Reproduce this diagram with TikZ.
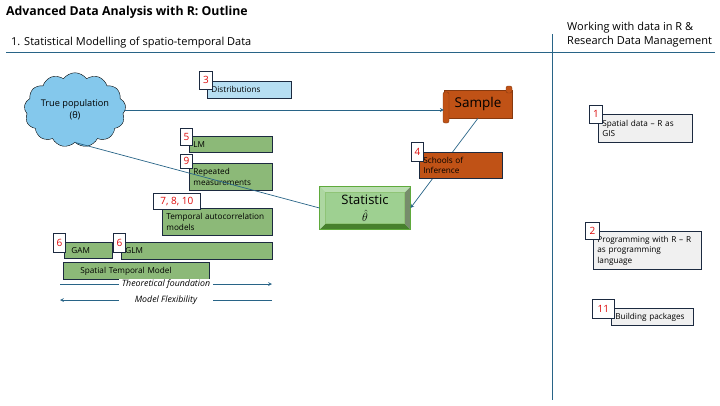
\documentclass[tikz,border=0pt]{standalone}
\usepackage{fontspec}
\setmainfont{Open Sans}
\usepackage{xcolor}
\usepackage{tikz}
\usetikzlibrary{shapes.symbols}
\usetikzlibrary{calc}
\definecolor{rulecol}{RGB}{40,100,135}
\definecolor{navy}{RGB}{28,42,64}
\definecolor{numred}{RGB}{220,10,10}
\definecolor{modelgreen}{RGB}{140,185,120}
\definecolor{distblue}{RGB}{182,222,242}
\definecolor{rust}{RGB}{192,82,22}
\definecolor{skyblue}{RGB}{132,200,236}
\definecolor{statgreen}{RGB}{158,208,145}
\definecolor{statedge}{RGB}{95,170,60}
\definecolor{lightgrey}{RGB}{240,240,240}
\tikzset{numtag/.style={draw=navy,fill=white,text=numred,line width=0.8pt,anchor=north west,inner sep=0pt,font=\fontsize{10}{11}\selectfont},
         topicbox/.style={draw=navy,line width=0.8pt,anchor=north west,align=left,inner xsep=4pt,inner ysep=1pt,font=\fontsize{8.2}{10.5}\selectfont},
         model/.style={topicbox,fill=modelgreen},
         rtopic/.style={topicbox,fill=lightgrey},
         flow/.style={draw=rulecol,line width=0.7pt,>=stealth}}

\begin{document}
\begin{tikzpicture}[x=1pt,y=-1pt]
\useasboundingbox (0,0) rectangle (720,405);
\node[anchor=base west,inner sep=0pt,font=\bfseries\fontsize{12.3}{14}\selectfont] (title) at (6,15) {Advanced Data Analysis with R: Outline};
\node[anchor=base west,inner sep=0pt,font=\fontsize{11}{13}\selectfont] (part1) at (11,45) {1. Statistical Modelling of spatio-temporal Data};
\node[anchor=base west,inner sep=0pt,font=\fontsize{11}{13}\selectfont] (part2a) at (567,30) {Working with data in R \&};
\node[anchor=base west,inner sep=0pt,font=\fontsize{11}{13}\selectfont] (part2b) at (567,44) {Research Data Management};
\draw[rulecol,line width=1pt] (6,52) -- (715,52);
\draw[rulecol,line width=1pt] (552,34) -- (552,400);

\node[cloud,cloud puffs=13,cloud puff arc=110,aspect=1.5,draw=black,fill=skyblue,minimum width=95pt,minimum height=65pt,align=center,inner sep=0pt,font=\fontsize{9.2}{12}\selectfont] (population) at (75,110) {True population\\(θ)};

\node[fill=rust,draw=rust!70!black,minimum width=68pt,minimum height=28pt,inner sep=0pt,font=\fontsize{13.5}{15}\selectfont] (sample) at (478,104) {Sample};
\draw[fill=rust,draw=rust!70!black,rounded corners=2pt] (443,92) rectangle (449,123);
\draw[fill=rust,draw=rust!70!black,rounded corners=2pt] (506,86) rectangle (512,93);

\node[fill=statgreen,draw=statedge,line width=1pt,minimum width=90pt,minimum height=42pt,inner sep=0pt,align=center,font=\fontsize{13}{15}\selectfont] (statistic) at (365,208) {Statistic\\[2pt]$\hat\theta$};
\fill[statedge!75!black] (statistic.south west) -- (statistic.south east) -- ($(statistic.south east)+(-6,-6)$) -- ($(statistic.south west)+(6,-6)$) -- cycle;
\fill[gray!70!statedge] (statistic.south east) -- (statistic.north east) -- ($(statistic.north east)+(-6,6)$) -- ($(statistic.south east)+(-6,-6)$) -- cycle;
\fill[statgreen!70!white] (statistic.north west) -- (statistic.north east) -- ($(statistic.north east)+(-6,6)$) -- ($(statistic.north west)+(6,6)$) -- cycle;
\fill[statgreen!85!white] (statistic.north west) -- (statistic.south west) -- ($(statistic.south west)+(6,-6)$) -- ($(statistic.north west)+(6,6)$) -- cycle;
\draw[statedge!70!white] ($(statistic.north west)+(6,6)$) rectangle ($(statistic.south east)+(-6,-6)$);
\draw[statedge,line width=1pt] (statistic.north west) rectangle (statistic.south east);

\draw[flow,->] (population.east) -- (population.east -| sample.west);
\draw[flow,->] (sample.south) -- (statistic.east);

\node[topicbox,fill=distblue,minimum width=84pt,minimum height=17pt,text width=76pt] (distributions) at (207,81) {Distributions};
\node[model,minimum width=83pt,minimum height=16pt,text width=75pt] (lm) at (189,136) {LM};
\node[model,minimum width=83pt,minimum height=27pt,text width=75pt] (repeated) at (189,163) {Repeated\\measurements};
\node[model,minimum width=110pt,minimum height=27pt,text width=102pt] (temporal) at (162,208) {Temporal autocorrelation\\models};
\node[model,minimum width=48pt,minimum height=16pt,text width=38pt] (gam) at (64,242) {\hspace*{2pt}GAM};
\node[model,minimum width=151pt,minimum height=17pt,text width=143pt] (glm) at (121,242) {GLM};
\node[model,minimum width=146pt,minimum height=17pt,text width=138pt] (spatialtemporal) at (63,262) {\hspace*{13pt}Spatial Temporal Model};
\node[topicbox,fill=rust,minimum width=83pt,minimum height=26pt,text width=75pt] (schools) at (419,152) {Schools of\\Inference};
\node[rtopic,minimum width=94pt,minimum height=28pt,text width=86pt] (spatialdata) at (598,114) {Spatial data – R as\\GIS};
\node[rtopic,minimum width=108pt,minimum height=38pt,text width=100pt] (programming) at (593,231) {Programming with R – R\\as programming\\language};
\node[rtopic,minimum width=82pt,minimum height=17pt,text width=74pt] (packages) at (611,308) {Building packages};

\draw[flow] (population.south) -- (statistic.west);

\foreach \n/\t/\x/\y/\w/\h in {dist/3/199/71/13/18,lm/5/180/128/12/17,rep/9/180/154/12/14,tac/{7, 8, 10}/153/193/47/16,gam/6/53/233/12/19,glm/6/113/233/12/19,inf/4/411/142/12/19,spat/1/589/105/13/18,prog/2/585/222/14/17,pkg/11/592/299/22/19}
  \node[numtag,minimum width=\w,minimum height=\h] (tag\n) at (\x,\y) {\t};

\coordinate (tfstart) at (60,284);
\coordinate (tfend) at (272,284);
\coordinate (mfstart) at (272,300);
\coordinate (mfend) at (60,300);
\draw[flow,->] (tfstart) -- node[fill=white,minimum width=94pt,inner sep=1pt,font=\itshape\fontsize{8.8}{10}\selectfont] (theory) {Theoretical foundation} (tfend);
\draw[flow,->] (mfstart) -- node[fill=white,minimum width=94pt,inner sep=1pt,font=\itshape\fontsize{8.8}{10}\selectfont] (flexibility) {Model Flexibility} (mfend);
\end{tikzpicture}
\end{document}
